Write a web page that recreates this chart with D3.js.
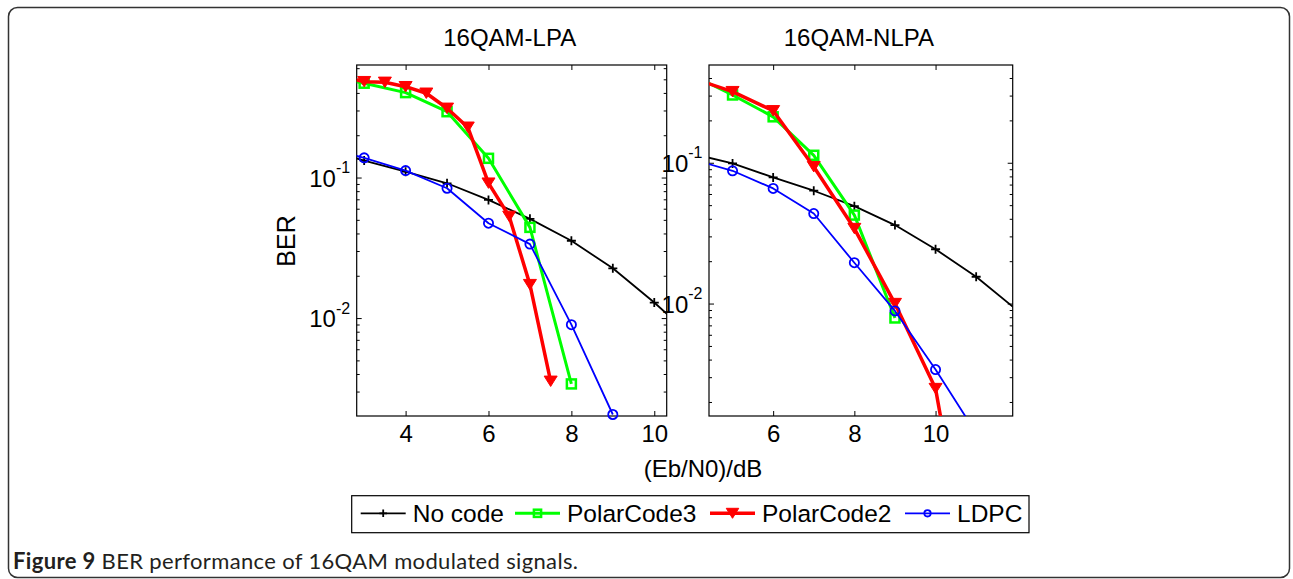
<!DOCTYPE html>
<html>
<head>
  <meta charset="utf-8">
  <script src="https://cdn.jsdelivr.net/npm/d3@7"></script>
  <style>
body { margin: 0; background: #fff; }
svg text { font-family: "Liberation Sans", Arial, Helvetica, sans-serif; fill: #000; }
svg text.caption { font-family: Lato, "Open Sans", sans-serif; fill: #231f20; }
.frame { fill: none; stroke: #333; stroke-width: 1.5px; }
.box { fill: none; stroke: #000; stroke-width: 1.2px; }
.axis path { display: none; }
.axis line { stroke: #000; stroke-width: 1px; }
  </style>
</head>
<body>
<svg width="1293" height="579"></svg>
<script>

// Eb/N0 (dB) -> BER. Left panel: linear PA
const lpaNoCodeX = [2, 3, 4, 5, 6, 7, 8, 9, 10, 11];
const lpaNoCode  = [0.16, 0.132, 0.110, 0.091, 0.0693, 0.0508, 0.0355, 0.0226, 0.0129, 0.0070];
const lpaPolar3X = [2, 3, 4, 5, 6, 7, 8];
const lpaPolar3  = [0.53, 0.469, 0.402, 0.294, 0.137, 0.0442, 0.0034];
const lpaPolar2X = [2, 3, 3.5, 4, 4.5, 5, 5.5, 6, 6.5, 7, 7.5];
const lpaPolar2  = [0.56, 0.481, 0.476, 0.443, 0.398, 0.311, 0.228, 0.0912, 0.0529, 0.0173, 0.00355];
const lpaLdpcX   = [2, 3, 4, 5, 6, 7, 8, 9];
const lpaLdpc    = [0.165, 0.138, 0.112, 0.0839, 0.0473, 0.0336, 0.00897, 0.00206];

// right panel: non-linear PA
const nlpaNoCodeX = [4, 5, 6, 7, 8, 9, 10, 11, 12];
const nlpaNoCode  = [0.116, 0.0989, 0.0787, 0.0633, 0.0492, 0.0361, 0.0243, 0.0155, 0.009];
const nlpaPolar3X = [4, 5, 6, 7, 8, 9];
const nlpaPolar3  = [0.42, 0.303, 0.212, 0.113, 0.0425, 0.0079];
const nlpaPolar2X = [4, 5, 6, 7, 8, 9, 10, 11];
const nlpaPolar2  = [0.40, 0.320, 0.234, 0.0937, 0.0341, 0.0100, 0.00249, 0.00006];
const nlpaLdpcX   = [4, 5, 6, 7, 8, 9, 10, 11];
const nlpaLdpc    = [0.106, 0.0877, 0.0657, 0.0436, 0.0195, 0.00887, 0.0034, 0.0012];

const seriesNames = ["No code", "PolarCode3", "PolarCode2", "LDPC"];
const xTicksLpa  = [4, 6, 8, 10];
const xTicksNlpa = [6, 8, 10];
const yMajorTicks = [0.01, 0.1];

const styles = [
  {color: "#000000", width: 1.8, mark: "plus"},
  {color: "#00ff00", width: 3,   mark: "square"},
  {color: "#ff0000", width: 3.5, mark: "tri"},
  {color: "#0000ff", width: 1.8, mark: "circle"}
];

function zip(xs, ys) { return xs.map((x, i) => ({x: x, y: ys[i]})); }

const panels = [
  {
    title: "16QAM-LPA", left: 356.7, right: 666.7,
    xDomain: [2.82, 10.3], yDomain: [0.00201, 0.632], xTicks: xTicksLpa,
    series: [zip(lpaNoCodeX, lpaNoCode), zip(lpaPolar3X, lpaPolar3),
             zip(lpaPolar2X, lpaPolar2), zip(lpaLdpcX, lpaLdpc)]
  },
  {
    title: "16QAM-NLPA", left: 709, right: 1012.7,
    xDomain: [4.42, 11.9], yDomain: [0.00159, 0.4947], xTicks: xTicksNlpa,
    series: [zip(nlpaNoCodeX, nlpaNoCode), zip(nlpaPolar3X, nlpaPolar3),
             zip(nlpaPolar2X, nlpaPolar2), zip(nlpaLdpcX, nlpaLdpc)]
  }
];

const plotTop = 65, plotBottom = 416;

var svg = d3.select("svg");

svg.append("rect")
   .attr("class", "frame")
   .attr("x", 8.5).attr("y", 7.5)
   .attr("width", 1281).attr("height", 570)
   .attr("rx", 9);

function drawMarker(g, type, color, s) {
  if (type == "plus") {
    g.append("path").attr("d", `M${-s},0H${s}M0,${-s}V${s}`)
     .attr("stroke", color).attr("stroke-width", 1.8).attr("fill", "none");
  } else if (type == "square") {
    g.append("rect").attr("x", -s).attr("y", -s).attr("width", 2 * s).attr("height", 2 * s)
     .attr("stroke", color).attr("stroke-width", 2.5).attr("fill", "none");
  } else if (type == "tri") {
    g.append("path").attr("d", `M${-s * 1.25},${-s}L${s * 1.25},${-s}L0,${s}Z`)
     .attr("stroke", color).attr("stroke-width", 1).attr("fill", color)
     .attr("stroke-linejoin", "round");
  } else {
    g.append("circle").attr("r", s)
     .attr("stroke", color).attr("stroke-width", 1.8).attr("fill", "none");
  }
}

const markSize = {plus: 4.5, square: 4.5, tri: 5.2, circle: 4.6};

panels.forEach((p, pi) => {
  var x = d3.scaleLinear().domain(p.xDomain).range([p.left, p.right]);
  var y = d3.scaleLog().domain(p.yDomain).range([plotBottom, plotTop]);

  var g = svg.append("g");

  svg.append("clipPath").attr("id", "clip" + pi)
     .append("rect")
     .attr("x", p.left).attr("y", plotTop)
     .attr("width", p.right - p.left).attr("height", plotBottom - plotTop);

  // minor ticks on the log axis
  var minor = [];
  for (var e = -4; e <= 0; e++) {
    for (var k = 2; k <= 9; k++) {
      var v = k * Math.pow(10, e);
      if (v > p.yDomain[0] && v < p.yDomain[1]) minor.push(v);
    }
  }

  g.append("g").attr("class", "axis")
   .attr("transform", `translate(0,${plotBottom})`)
   .call(d3.axisBottom(x).tickValues(p.xTicks).tickSizeInner(-5).tickSizeOuter(0).tickPadding(9.3))
   .attr("font-size", 24).attr("font-family", null);
  g.append("g").attr("class", "axis")
   .attr("transform", `translate(0,${plotTop})`)
   .call(d3.axisTop(x).tickValues(p.xTicks).tickSizeInner(-5).tickSizeOuter(0).tickFormat(""));

  [[d3.axisLeft, p.left], [d3.axisRight, p.right]].forEach(a => {
    g.append("g").attr("class", "axis")
     .attr("transform", `translate(${a[1]},0)`)
     .call(a[0](y).tickValues(yMajorTicks).tickSizeInner(-5).tickSizeOuter(0).tickFormat(""));
    g.append("g").attr("class", "axis")
     .attr("transform", `translate(${a[1]},0)`)
     .call(a[0](y).tickValues(minor).tickSizeInner(-3).tickSizeOuter(0).tickFormat(""));
  });

  // 10^n labels
  var lab = g.selectAll(".ylab")
             .data(yMajorTicks)
             .enter().append("text")
             .attr("class", "ylab")
             .attr("text-anchor", "end")
             .attr("x", p.left - 6.5)
             .attr("y", d => y(d) + 9)
             .attr("font-size", 24);
  lab.append("tspan").text("10");
  lab.append("tspan").attr("dy", -13.4).attr("font-size", 16)
     .text(d => Math.round(Math.log10(d)));

  g.append("rect").attr("class", "box")
   .attr("x", p.left).attr("y", plotTop)
   .attr("width", p.right - p.left).attr("height", plotBottom - plotTop);

  g.append("text")
   .attr("x", (p.left + p.right) / 2 - 2).attr("y", 45.7)
   .attr("text-anchor", "middle").attr("font-size", 24)
   .text(p.title);

  var line = d3.line().x(d => x(d.x)).y(d => y(d.y));

  p.series.forEach((s, si) => {
    var st = styles[si];
    g.append("path")
     .datum(s)
     .attr("d", line)
     .attr("clip-path", `url(#clip${pi})`)
     .attr("fill", "none")
     .attr("stroke", st.color)
     .attr("stroke-width", st.width)
     .attr("stroke-linejoin", "round");

    s.filter(d => d.x >= p.xDomain[0] && d.x <= p.xDomain[1] &&
                  d.y >= p.yDomain[0] && d.y <= p.yDomain[1])
     .forEach(d => {
       var m = g.append("g").attr("transform", `translate(${x(d.x)},${y(d.y)})`);
       drawMarker(m, st.mark, st.color, markSize[st.mark]);
     });
  });
});

svg.append("text")
   .attr("transform", "translate(295,241) rotate(-90)")
   .attr("text-anchor", "middle").attr("font-size", 25)
   .text("BER");

svg.append("text")
   .attr("x", 703).attr("y", 476.7)
   .attr("text-anchor", "middle").attr("font-size", 24)
   .text("(Eb/N0)/dB");

// legend
svg.append("rect").attr("class", "box")
   .attr("x", 351.7).attr("y", 495.7)
   .attr("width", 1029 - 351.7).attr("height", 37);

const legendX = [360.7, 515, 710, 905];
const legendMark = {plus: 3.8, square: 3.6, tri: 5, circle: 3.2};
var ly = 513.3;
seriesNames.forEach((name, i) => {
  var st = styles[i];
  var lg = svg.append("g").attr("transform", `translate(${legendX[i]},${ly})`);
  lg.append("line").attr("x1", 0).attr("x2", 45)
    .attr("stroke", st.color).attr("stroke-width", st.width);
  var m = lg.append("g").attr("transform", "translate(22.5,0)");
  drawMarker(m, st.mark, st.color, legendMark[st.mark]);
  lg.append("text").attr("x", 52).attr("y", 9).attr("font-size", 24.5).text(name);
});

var cap = svg.append("text")
             .attr("class", "caption")
             .attr("x", 13).attr("y", 569)
             .attr("font-size", 22)
             .attr("textLength", 565)
             .attr("lengthAdjust", "spacing");
cap.append("tspan").attr("font-weight", "bold").text("Figure 9");
cap.append("tspan").text(" BER performance of 16QAM modulated signals.");

</script>
</body>
</html>
